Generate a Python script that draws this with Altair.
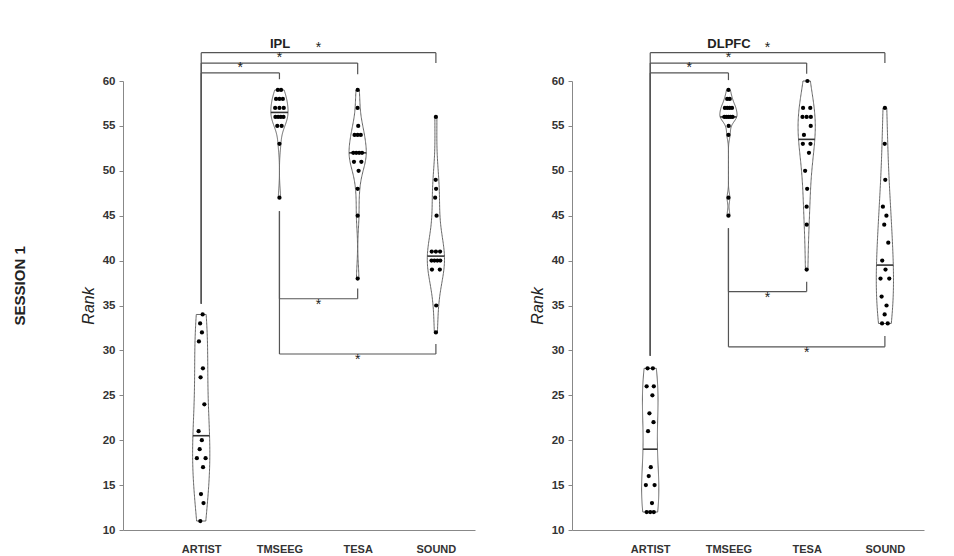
import altair as alt
import numpy as np
import pandas as pd
from collections import Counter, defaultdict

# ---------------- data ----------------
categories = ["ARTIST", "TMSEEG", "TESA", "SOUND"]

ipl_artist = [34, 33, 32, 31, 28, 27, 24, 21, 20, 19, 18, 18, 17, 14, 13, 11]
ipl_tmseeg = [59, 59, 58, 58, 58, 57, 57, 57, 56, 56, 56, 56, 55, 55, 53, 47]
ipl_tesa = [59, 57, 55, 54, 54, 54, 52, 52, 52, 52, 51, 51, 50, 48, 45, 38]
ipl_sound = [56, 49, 48, 47, 45, 41, 41, 41, 40, 40, 40, 40, 39, 39, 35, 32]

dlpfc_artist = [28, 28, 26, 26, 25, 23, 22, 21, 17, 16, 15, 15, 13, 12, 12, 12]
dlpfc_tmseeg = [59, 58, 58, 57, 57, 57, 57, 56, 56, 56, 56, 56, 55, 54, 47, 45]
dlpfc_tesa = [60, 57, 57, 56, 56, 56, 55, 54, 53, 53, 52, 50, 48, 46, 44, 39]
dlpfc_sound = [57, 53, 49, 46, 45, 44, 42, 40, 39, 38, 38, 36, 35, 34, 33, 33]

# significance brackets: pair (from, to) category index, level, leg ends
bracket_from = [1, 1, 1, 2, 2]
bracket_to = [2, 3, 4, 3, 4]
bracket_star_side = ["above", "above", "above", "below", "below"]
ipl_level = [60.9, 62.0, 63.15, 35.75, 29.6]
ipl_left_end = [35.2, 35.2, 35.2, 45.5, 45.5]
ipl_right_end = [60.2, 60.75, 62.0, 36.9, 30.7]
dlpfc_level = [60.9, 62.0, 63.15, 36.55, 30.4]
dlpfc_left_end = [29.4, 29.4, 29.4, 43.6, 43.6]
dlpfc_right_end = [60.1, 60.8, 62.0, 37.65, 31.6]

Y_TICKS = list(range(10, 61, 5))
HALF_W = 0.11          # max half width of a violin, in category units
FONT = "Liberation Sans"
STEPS = 150
JITTER_PATTERN = [0.55, -0.35, 0.2, -0.6, 0.4, -0.15, 0.65, -0.45,
                  0.1, -0.25, 0.5, -0.55, 0.3, -0.05, 0.6, -0.4]


def bandwidth(v):
    v = np.asarray(v, float)
    d = v.std(ddof=1)
    q1, q3 = np.percentile(v, [25, 75])
    h = (q3 - q1) / 1.34
    s = min(d, h) or d or 1.0
    return 1.06 * s * len(v) ** -0.2


def make_pdf(v):
    v = np.asarray(v, float)
    bw = bandwidth(v)

    def pdf(x):
        x = np.atleast_1d(np.asarray(x, float))
        z = (x[:, None] - v[None, :]) / bw
        return np.exp(-0.5 * z * z).sum(axis=1)
    grid = np.linspace(v.min(), v.max(), STEPS)
    pmax = pdf(grid).max()
    return lambda x: pdf(x) / pmax


def density_chart(df):
    try:
        return alt.Chart(df).transform_density(
            "value", groupby=["cat", "pos"], as_=["value", "density"],
            steps=STEPS, resolve="independent")
    except TypeError:
        return alt.Chart(df, transform=[{
            "density": "value", "groupby": ["cat", "pos"],
            "as": ["value", "density"], "steps": STEPS,
            "resolve": "independent"}])


def panel(name, lists, level, left_end, right_end, dx):
    pts, meds = [], []
    for ci, (cat, vals) in enumerate(zip(categories, lists)):
        pos = ci + 1
        rel = make_pdf(vals)
        counts = Counter(vals)
        seen = defaultdict(int)
        for i, v in enumerate(vals):
            hw = HALF_W * float(rel(v)[0])
            k = counts[v]
            if k > 1:
                j = seen[v]
                seen[v] += 1
                frac = (j - (k - 1) / 2) / ((k - 1) / 2) * 0.7
            else:
                frac = JITTER_PATTERN[i % len(JITTER_PATTERN)]
            off = frac * max(hw - 0.03, 0.0)
            pts.append({"cat": cat, "pos": pos, "value": v, "xj": pos + off})
        med = float(np.median(vals))
        hwm = HALF_W * float(rel(med)[0])
        meds.append({"cat": cat, "med": med, "xl": pos - hwm, "xr": pos + hwm})
    df_pts = pd.DataFrame(pts)
    df_med = pd.DataFrame(meds)

    segs, stars = [], []
    for a, b, lv, le, re, side in zip(bracket_from, bracket_to, level,
                                      left_end, right_end, bracket_star_side):
        segs.append({"x": a, "x2": b, "y": lv, "y2": lv})
        segs.append({"x": a, "x2": a, "y": lv, "y2": le})
        segs.append({"x": b, "x2": b, "y": lv, "y2": re})
        stars.append({"x": (a + b) / 2, "y": lv, "side": side, "t": "*"})
    df_seg = pd.DataFrame(segs)
    df_star = pd.DataFrame(stars)

    x_scale = alt.Scale(domain=[0, 4.5], nice=False, zero=False)
    y_scale = alt.Scale(domain=[10, 60], nice=False, zero=False)
    x_axis = alt.Axis(values=[1, 2, 3, 4], title=None, grid=False, ticks=False,
                      labelExpr="['', 'ARTIST', 'TMSEEG', 'TESA', 'SOUND'][datum.value]",
                      labelFont=FONT, labelFontWeight="bold", labelFontSize=11,
                      labelColor="#333", labelPadding=13, domainColor="#888",
                      domainWidth=1)
    y_axis = alt.Axis(values=Y_TICKS, title="Rank", grid=False, tickSize=4,
                      tickColor="#888", domainColor="#888", labelFont=FONT,
                      labelFontWeight="bold", labelFontSize=11.5, labelColor="#333",
                      labelPadding=4, titleFont=FONT, titleFontStyle="italic",
                      titleFontWeight="normal", titleFontSize=16, titleColor="#222",
                      titlePadding=6)

    def X(f):
        return alt.X(f, type="quantitative", scale=x_scale, axis=x_axis)

    def Y(f):
        return alt.Y(f, type="quantitative", scale=y_scale, axis=y_axis)

    violin = density_chart(df_pts).transform_joinaggregate(
        dmax="max(density)", groupby=["cat"]
    ).transform_calculate(
        vl=f"datum.pos - {HALF_W} * datum.density / datum.dmax",
        vr=f"datum.pos + {HALF_W} * datum.density / datum.dmax",
    ).mark_area(orient="horizontal", fill="white", stroke="#666",
                strokeWidth=1).encode(
        y=Y("value"), x=X("vl"), x2=alt.X2("vr"), detail="cat:N")

    median = alt.Chart(df_med).mark_rule(color="#333", strokeWidth=1.6).encode(
        y=Y("med"), x=X("xl"), x2=alt.X2("xr"))

    points = alt.Chart(df_pts).mark_circle(size=18, color="black",
                                           opacity=1).encode(
        x=X("xj"), y=Y("value"))

    brackets = alt.Chart(df_seg).mark_rule(color="#555", strokeWidth=1.2).encode(
        x=X("x"), x2=alt.X2("x2"), y=Y("y"), y2=alt.Y2("y2"))

    star_up = alt.Chart(df_star).transform_filter("datum.side == 'above'").mark_text(
        font=FONT, fontSize=14, color="#222", baseline="middle", dy=-5).encode(
        x=X("x"), y=Y("y"), text="t:N")
    star_dn = alt.Chart(df_star).transform_filter("datum.side == 'below'").mark_text(
        font=FONT, fontSize=14, color="#222", baseline="middle", dy=6).encode(
        x=X("x"), y=Y("y"), text="t:N")

    return alt.layer(violin, median, points, brackets, star_up, star_dn).properties(
        width=352, height=449,
        title=alt.TitleParams(name, font=FONT, fontSize=13, fontWeight="bold",
                              color="#222", baseline="bottom", offset=-23, dx=dx))


ipl = panel("IPL", [ipl_artist, ipl_tmseeg, ipl_tesa, ipl_sound],
            ipl_level, ipl_left_end, ipl_right_end, -19)
dlpfc = panel("DLPFC", [dlpfc_artist, dlpfc_tmseeg, dlpfc_tesa, dlpfc_sound],
              dlpfc_level, dlpfc_left_end, dlpfc_right_end, -19)

chart = alt.hconcat(ipl, dlpfc, spacing=54).properties(
    title=alt.TitleParams("SESSION 1", orient="left", anchor="middle", font=FONT,
                          fontSize=15, fontWeight="bold", color="#222", offset=52,
                          dx=10),
    padding={"left": 5, "top": 29, "right": 5, "bottom": 5},
).configure_view(stroke=None)

chart.save("out.html", embed_options={"renderer": "svg", "actions": False})
